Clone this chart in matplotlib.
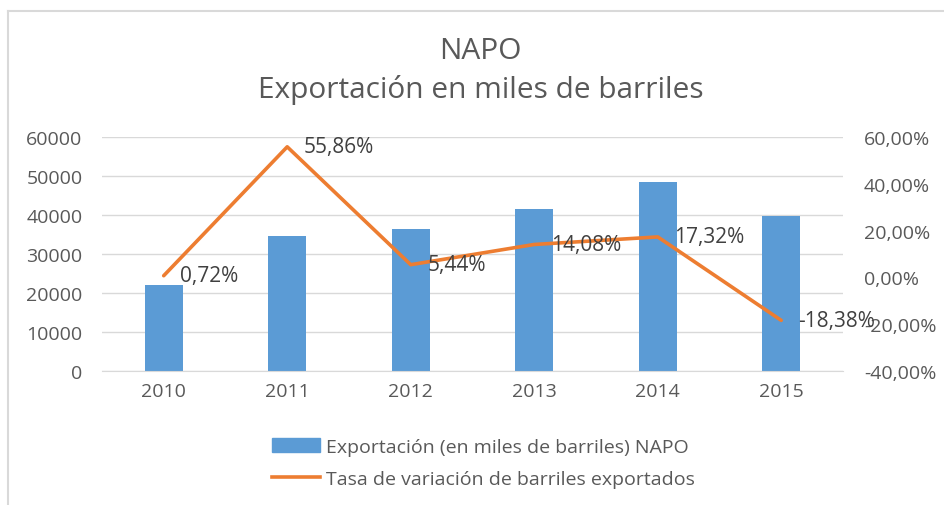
import matplotlib.pyplot as plt
from matplotlib.lines import Line2D
from matplotlib.ticker import FuncFormatter

# Data
years = ['2010', '2011', '2012', '2013', '2014', '2015']
exportacion = [22000, 34600, 36300, 41600, 48600, 39800]
tasa = [0.72, 55.86, 5.44, 14.08, 17.32, -18.38]
tasa_labels = ['0,72%', '55,86%', '5,44%', '14,08%', '17,32%', '-18,38%']

plt.rcParams['font.family'] = ['Open Sans', 'DejaVu Sans']

BAR = '#5b9bd5'
LINE = '#ed7d31'
TICK = '#595959'
GRID = '#d9d9d9'
FS = 14

fig = plt.figure(figsize=(9.44, 5.06), dpi=100)
ax = fig.add_axes([0.108, 0.265, 0.785, 0.462])
ax2 = ax.twinx()

x = list(range(len(years)))
ax.bar(x, exportacion, width=0.31, color=BAR, zorder=2)
ax.set_ylim(0, 60000)
ax.set_yticks(range(0, 60001, 10000))
ax.set_xlim(-0.5, len(years) - 0.5)
ax.set_xticks(x)
ax.set_xticklabels(years)
ax.grid(axis='y', color=GRID, linewidth=1, zorder=0)
ax.set_axisbelow(True)
for s in ax.spines.values():
    s.set_visible(False)
ax.spines['bottom'].set_visible(True)
ax.spines['bottom'].set_color(GRID)
ax.tick_params(axis='both', length=0, colors=TICK, labelsize=FS, pad=8)
ax.tick_params(axis='y', pad=14)

ax2.plot(x, tasa, color=LINE, linewidth=2.6, solid_capstyle='round', zorder=3)
ax2.set_ylim(-40, 60)
ax2.set_yticks(range(-40, 61, 20))
ax2.yaxis.set_major_formatter(FuncFormatter(lambda v, p: f'{v:.2f}%'.replace('.', ',')))
for s in ax2.spines.values():
    s.set_visible(False)
ax2.tick_params(axis='y', length=0, colors=TICK, labelsize=FS, pad=15)

# data labels to the right of each point (the last one runs into the axis labels, as in the original)
for xi, yi, lab in zip(x, tasa, tasa_labels):
    ax2.annotate(lab, (xi, yi), xytext=(12, 0), textcoords='offset points',
                 va='center', ha='left', fontsize=15, color='#404040')

fig.text(0.509, 0.899, 'NAPO', ha='center', va='center', fontsize=21.5, color='#595959')
fig.text(0.509, 0.822, 'Exportación en miles de barriles', ha='center', va='center',
         fontsize=21.5, color='#595959')

handles = [plt.Rectangle((0, 0), 1, 1, color=BAR),
           Line2D([0], [0], color=LINE, linewidth=2.6)]
labels = ['Exportación (en miles de barriles) NAPO',
          'Tasa de variación de barriles exportados']
fig.legend(handles, labels, loc='center', bbox_to_anchor=(0.512, 0.083), ncol=1,
           frameon=False, fontsize=FS, labelcolor='#595959', handlelength=2.5,
           handleheight=0.8, handletextpad=0.3, labelspacing=0.75)

# chart border (top and left visible)
fig.add_artist(Line2D([0.0085, 1.0], [0.976, 0.976], color='#d9d9d9', linewidth=1.5,
                      transform=fig.transFigure))
fig.add_artist(Line2D([0.0085, 0.0085], [0.0, 0.976], color='#d9d9d9', linewidth=1.5,
                      transform=fig.transFigure))

fig.savefig('out.png', dpi=100)
